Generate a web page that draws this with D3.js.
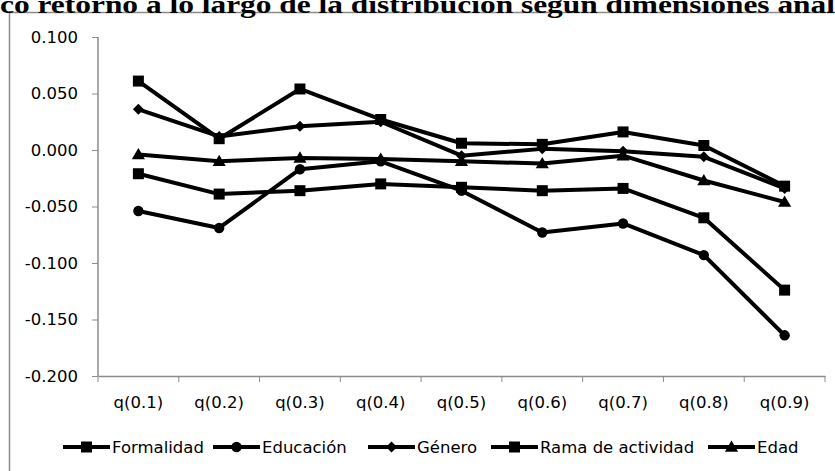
<!DOCTYPE html>
<html>
<head>
<meta charset="utf-8">
<script src="https://cdn.jsdelivr.net/npm/d3@7"></script>
<style>
  body { margin: 0; background: #fff; }
  svg { display: block; }
  .tick text { font-family: "DejaVu Sans", sans-serif; }
</style>
</head>
<body>
<div id="chart"></div>
<script>
// quantiles on the x axis
var categories = ["q(0.1)", "q(0.2)", "q(0.3)", "q(0.4)", "q(0.5)", "q(0.6)", "q(0.7)", "q(0.8)", "q(0.9)"];
var yTicks = [0.1, 0.05, 0, -0.05, -0.1, -0.15, -0.2];

// values
var formalidad = [0.061, 0.010, 0.054, 0.027, 0.006, 0.005, 0.016, 0.004, -0.032];
var educacion = [-0.054, -0.069, -0.017, -0.010, -0.036, -0.073, -0.065, -0.093, -0.164];
var genero = [0.036, 0.012, 0.021, 0.025, -0.005, 0.001, -0.001, -0.006, -0.034];
var rama = [-0.021, -0.039, -0.036, -0.030, -0.033, -0.036, -0.034, -0.060, -0.124];
var edad = [-0.004, -0.010, -0.007, -0.008, -0.010, -0.012, -0.005, -0.027, -0.046];

var series = [
  { name: "Formalidad", values: formalidad, marker: "square" },
  { name: "Educación", values: educacion, marker: "circle" },
  { name: "Género", values: genero, marker: "diamond" },
  { name: "Rama de actividad", values: rama, marker: "square" },
  { name: "Edad", values: edad, marker: "triangle" }
];

var width = 835, height = 471;
var margin = { top: 37, right: 10, bottom: 95, left: 98 };

var svg = d3.select("#chart").append("svg")
  .attr("width", width)
  .attr("height", height);

// chart frame (runs past the right and bottom edges of the picture)
svg.append("rect")
  .attr("x", 9.5).attr("y", 12.5)
  .attr("width", 900).attr("height", 600)
  .attr("fill", "none")
  .attr("stroke", "#8c8c8c")
  .attr("stroke-width", 1.5);

// title, cut off at the top and sides like the reference
svg.append("text")
  .attr("x", 0).attr("y", 13)
  .attr("font-family", "Liberation Serif, serif")
  .attr("font-weight", "bold")
  .attr("font-size", 25)
  .attr("textLength", 835)
  .attr("lengthAdjust", "spacingAndGlyphs")
  .text("co retorno a lo largo de la distribución según dimensiones anal");

var x = d3.scaleBand().domain(categories).range([margin.left, width - margin.right]);
var y = d3.scaleLinear().domain([-0.2, 0.1]).range([height - margin.bottom, margin.top]);

var yAxis = svg.append("g")
  .attr("transform", "translate(" + margin.left + ",0)")
  .call(d3.axisLeft(y).tickValues(yTicks)
    .tickFormat(function (d) { return d.toFixed(3); })
    .tickSize(6).tickPadding(14));

var xAxis = svg.append("g")
  .attr("transform", "translate(0," + y(-0.2) + ")")
  .call(d3.axisBottom(x).tickSize(0).tickPadding(20));

// Excel style: ticks between categories
xAxis.selectAll(".edge")
  .data(d3.range(categories.length + 1))
  .enter().append("line")
  .attr("x1", function (i) { return margin.left + i * x.step(); })
  .attr("x2", function (i) { return margin.left + i * x.step(); })
  .attr("y1", 0).attr("y2", 6)
  .attr("stroke", "#8c8c8c");

[yAxis, xAxis].forEach(function (g) {
  g.select(".domain").attr("stroke", "#8c8c8c").attr("stroke-width", 1.5);
  g.selectAll(".tick line").attr("stroke", "#8c8c8c");
  g.selectAll(".tick text").attr("font-size", 16.5).attr("fill", "#000");
});
yAxis.select(".domain").attr("d", "M0," + y(0.1) + "V" + y(-0.2));

function markerPath(type) {
  if (type == "square") return d3.symbol(d3.symbolSquare, 121)();
  if (type == "circle") return d3.symbol(d3.symbolCircle, 85)();
  if (type == "diamond") return d3.symbol(d3.symbolSquare, 60)();
  return d3.symbol(d3.symbolTriangle, 75)();
}
function markerTransform(type) {
  if (type == "diamond") return " rotate(45)";
  if (type == "triangle") return " translate(0,1)";
  return "";
}

var line = d3.line()
  .x(function (d, i) { return x(categories[i]) + x.bandwidth() / 2; })
  .y(function (d) { return y(d); });

var groups = svg.selectAll(".series")
  .data(series)
  .enter().append("g")
  .attr("class", "series");

groups.append("path")
  .attr("d", function (s) { return line(s.values); })
  .attr("fill", "none")
  .attr("stroke", "#000")
  .attr("stroke-width", 4)
  .attr("stroke-linejoin", "round");

groups.each(function (s) {
  d3.select(this).selectAll(".pt")
    .data(s.values)
    .enter().append("path")
    .attr("d", markerPath(s.marker))
    .attr("transform", function (d, i) {
      return "translate(" + (x(categories[i]) + x.bandwidth() / 2) + "," + y(d) + ")" + markerTransform(s.marker);
    })
    .attr("fill", "#000");
});

// legend
var legendX = [63, 213, 368, 491, 708];
var legend = svg.selectAll(".legend")
  .data(series)
  .enter().append("g")
  .attr("class", "legend")
  .attr("transform", function (s, i) { return "translate(" + legendX[i] + ",447)"; });

legend.append("line")
  .attr("x1", 0).attr("x2", 47)
  .attr("stroke", "#000").attr("stroke-width", 4);
legend.append("path")
  .attr("d", function (s) { return markerPath(s.marker); })
  .attr("transform", function (s) { return "translate(23.5,0)" + markerTransform(s.marker); })
  .attr("fill", "#000");
legend.append("text")
  .attr("x", 49).attr("y", 6)
  .attr("font-family", "DejaVu Sans, sans-serif")
  .attr("font-size", 16.5)
  .text(function (s) { return s.name; });
</script>
</body>
</html>
